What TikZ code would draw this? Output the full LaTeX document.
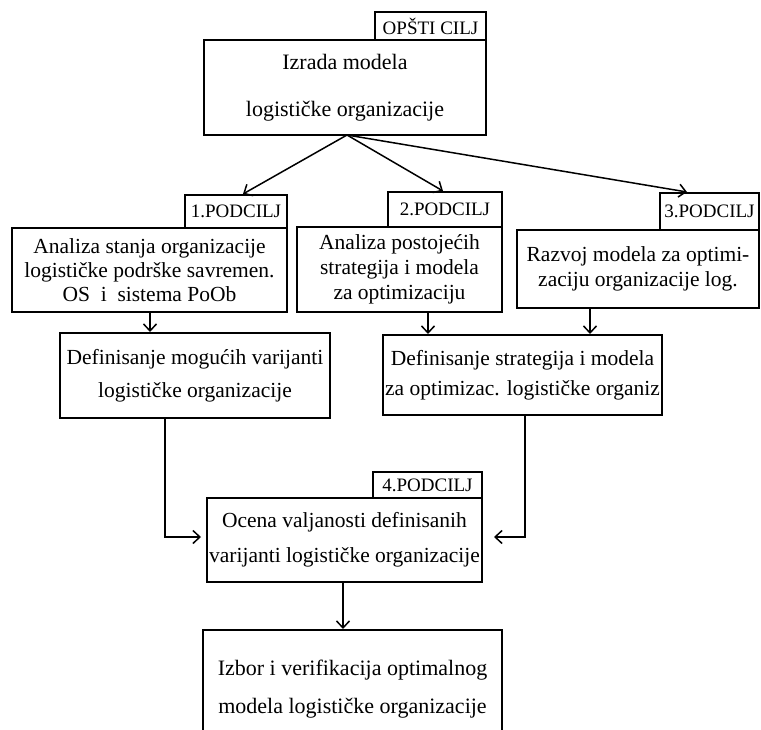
\documentclass[tikz,border=0pt]{standalone}
\usepackage{fontspec}
\setmainfont{Liberation Serif}
\usetikzlibrary{arrows.meta,calc}
\tikzset{
  box/.style={draw, line width=2pt, inner sep=0pt, align=center, fill=white},
  lbl/.style={draw, line width=2pt, inner sep=0pt, font=\fontsize{19}{19}\selectfont},
  arr/.style={line width=1.5pt, -{Straight Barb[length=7pt,width=13pt,line width=1.5pt]}},
  ln/.style={line width=1.5pt}
}
\begin{document}
\begin{tikzpicture}[x=1pt,y=-1pt]
\useasboundingbox (0,0) rectangle (761,730);
\clip (0,0) rectangle (761,730);
\fill[white] (0,0) rectangle (761,730);
% top
\node[lbl, minimum width=111pt, minimum height=28pt] (topl) at (430.5,26) {OPŠTI CILJ};
\node[box, minimum width=282pt, minimum height=95pt, font=\fontsize{22}{47}\selectfont] (main) at (345,87.5) {Izrada modela\\logističke organizacije};
% level 1
\node[lbl, minimum width=102pt, minimum height=33pt] (l1) at (236,211.5) {1.PODCILJ};
\node[box, minimum width=275pt, minimum height=84pt, font=\fontsize{21.5}{24}\selectfont] (b1) at (149.5,270) {Analiza stanja organizacije\\logističke podrške savremen.\\OS \ i \ sistema PoOb};
\node[lbl, minimum width=114pt, minimum height=35pt] (l2) at (445,209.5) {2.PODCILJ};
\node[box, minimum width=205pt, minimum height=85pt, font=\fontsize{21.5}{25}\selectfont] (b2) at (399.5,269.5) {Analiza postojećih\\strategija i modela\\za optimizaciju};
\node[lbl, minimum width=99pt, minimum height=37pt] (l3) at (709.5,211.5) {3.PODCILJ};
\node[box, minimum width=242pt, minimum height=78pt, font=\fontsize{21.5}{25}\selectfont] (b3) at (638,269) {Razvoj modela za optimi-\\zaciju organizacije log.};
% level 2
\node[box, minimum width=270pt, minimum height=85pt, font=\fontsize{21.5}{33}\selectfont] (b4) at (195,375.5) {Definisanje mogućih varijanti\\logističke organizacije};
\node[box, minimum width=279pt, minimum height=80pt, font=\fontsize{21.5}{30}\selectfont] (b5) at (522.5,375) {Definisanje strategija i modela\\za optimizac. logističke organiz};
% level 3
\node[lbl, minimum width=109pt, minimum height=26pt] (l4) at (427.5,485) {4.PODCILJ};
\node[box, minimum width=275pt, minimum height=84pt, font=\fontsize{21.5}{35}\selectfont] (b6) at (344.5,540) {Ocena valjanosti definisanih\\varijanti logističke organizacije};
\node[box, minimum width=299pt, minimum height=118pt, font=\fontsize{22}{38}\selectfont] (b7) at (352.5,689) {Izbor i verifikacija optimalnog\\modela logističke organizacije};
% connectors
\coordinate (src) at (347,135);
\draw[arr] (src) -- (243,0 |- l1.north);
\draw[arr] (src) -- (443,0 |- l2.north);
\draw[arr] (src) -- (687,0 |- l3.north);
\draw[arr] (150,0 |- b1.south) -- (150,0 |- b4.north);
\draw[arr] (428,0 |- b2.south) -- (428,0 |- b5.north);
\draw[arr] (590,0 |- b3.south) -- (590,0 |- b5.north);
\coordinate (lin) at ([xshift=-5pt,yshift=3pt]b6.west);
\coordinate (rin) at ([xshift=11pt,yshift=3pt]b6.east);
\draw[arr] (165,0 |- b4.south) |- (lin);
\draw[arr] (525,0 |- b5.south) |- (rin);
\draw[arr] (343,0 |- b6.south) -- (343,0 |- b7.north);
\end{tikzpicture}
\end{document}
